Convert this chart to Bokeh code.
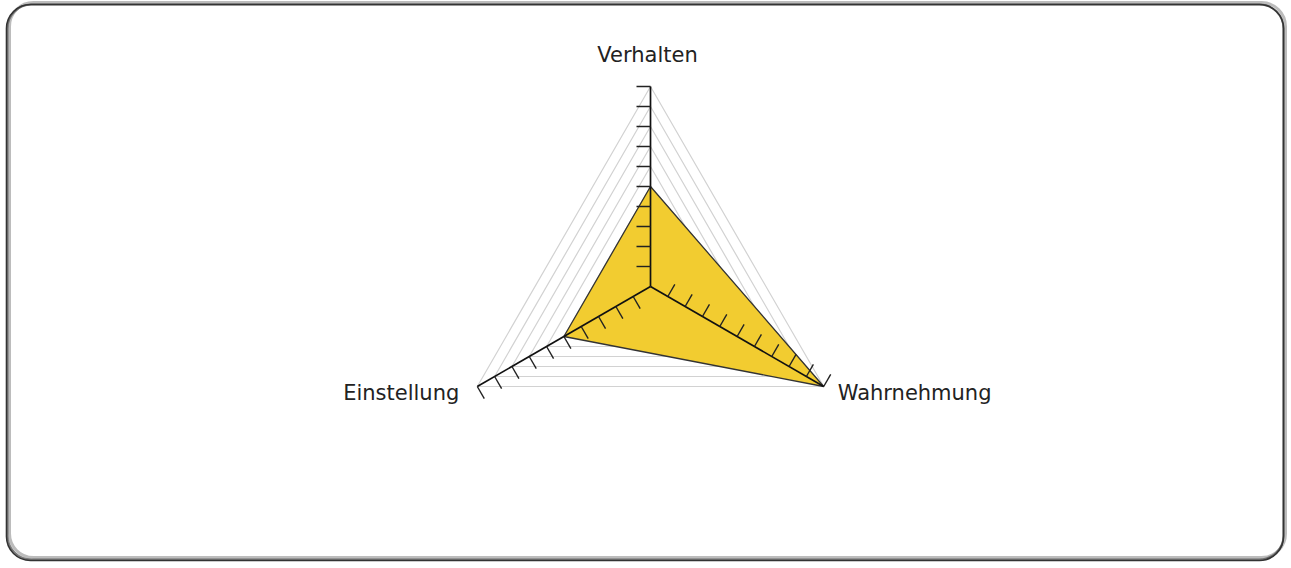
import numpy as np
from bokeh.plotting import figure
from bokeh.models import BoxAnnotation, ColumnDataSource, Range1d
from bokeh.core.properties import value, field
from bokeh.embed import file_html
from bokeh.resources import INLINE

# ---- data ----
categories = ["Verhalten", "Wahrnehmung", "Einstellung"]
values = [5, 10, 5]
levels = [1, 2, 3, 4, 5, 6, 7, 8, 9, 10]
max_value = 10

# ---- layout / style ----
W, H = 1288, 566
SCALE = 20.0          # pixels per value unit
CX, CY = 650, 286     # center of radar in canvas pixels
TICK_LEN = 0.7
label_offsets = {     # (x_offset, y_offset, align) in screen px
    "Verhalten": (-3, -32, "center"),
    "Wahrnehmung": (14, 6, "left"),
    "Einstellung": (-18, 6, "right"),
}

p = figure(width=W, height=H, output_backend="svg", toolbar_location=None,
           x_range=Range1d(-CX / SCALE, (W - CX) / SCALE),
           y_range=Range1d(-(H - CY) / SCALE, CY / SCALE),
           x_axis_type=None, y_axis_type=None, min_border=0,
           background_fill_color="white", border_fill_color="white")
p.outline_line_color = None
p.grid.visible = False

n = len(categories)
angles = np.pi / 2 - 2 * np.pi * np.arange(n) / n
cosa, sina = np.cos(angles), np.sin(angles)

# frame with rounded corners and a soft shadow
def box(l, r, t, b, color, width, alpha):
    return BoxAnnotation(left=l, right=r, top=t, bottom=b,
                         left_units="screen", right_units="screen",
                         top_units="screen", bottom_units="screen",
                         fill_alpha=0, line_color=color, line_width=width,
                         line_alpha=alpha, border_radius=24, level="underlay")

p.add_layout(box(9, 1285, 9, 564, "#7a7a7a", 3, 0.5))
p.add_layout(box(7, 1283, 7, 562, "#5a5a5a", 2, 0.8))
p.add_layout(box(6, 1283, 6, 562, "#333333", 1.6, 1.0))

# grid triangles
gx = [list(l * cosa) for l in levels]
gy = [list(l * sina) for l in levels]
p.patches(gx, gy, fill_alpha=0, line_color="#d2d2d2", line_width=1.2)

# data polygon
vals = np.array(values, dtype=float)
p.patch(list(vals * cosa), list(vals * sina), fill_color="#F2CC30",
        line_color="#333333", line_width=1.3)

# axes
p.segment(x0=[0] * n, y0=[0] * n, x1=list(max_value * cosa), y1=list(max_value * sina),
          line_color="#111111", line_width=1.7)

# ticks
tx0, ty0, tx1, ty1 = [], [], [], []
for a in angles:
    px, py = -np.sin(a), np.cos(a)
    for l in levels:
        bx, by = l * np.cos(a), l * np.sin(a)
        tx0.append(bx); ty0.append(by)
        tx1.append(bx + TICK_LEN * px); ty1.append(by + TICK_LEN * py)
p.segment(x0=tx0, y0=ty0, x1=tx1, y1=ty1, line_color="#222222", line_width=1.4)

# labels
src = ColumnDataSource(dict(
    x=list(max_value * cosa), y=list(max_value * sina), text=categories,
    xoff=[label_offsets[c][0] for c in categories],
    yoff=[label_offsets[c][1] for c in categories],
    align=[label_offsets[c][2] for c in categories],
))
p.text(x="x", y="y", text="text", source=src, x_offset=field("xoff"), y_offset=field("yoff"),
       text_align=field("align"), text_baseline="alphabetic",
       text_font=value("DejaVu Sans"), text_font_size="21px", text_color="#222222")

open("out.html", "w").write(file_html(p, INLINE))
